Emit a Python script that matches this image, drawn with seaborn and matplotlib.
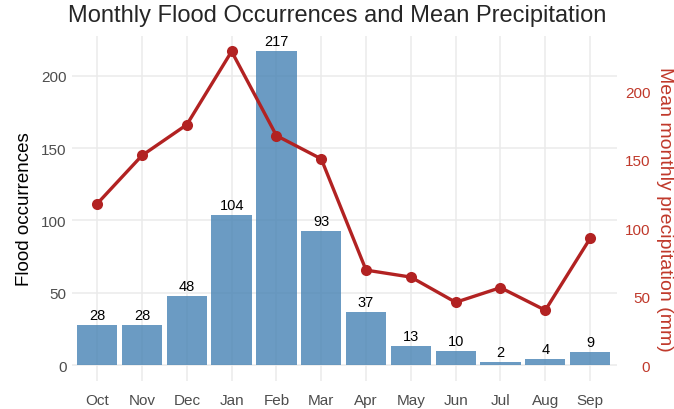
import numpy as np
import pandas as pd
import matplotlib
matplotlib.use("Agg")
import matplotlib.pyplot as plt
import seaborn as sns

months = ["Oct", "Nov", "Dec", "Jan", "Feb", "Mar", "Apr", "May", "Jun", "Jul", "Aug", "Sep"]
floods = [28, 28, 48, 104, 217, 93, 37, 13, 10, 2, 4, 9]
precip = [117.8, 153, 175.5, 229, 167.5, 150.5, 69.3, 64.2, 45.8, 56.5, 40, 92.4]
left_ticks = [0, 50, 100, 150, 200]
right_ticks = [0, 50, 100, 150, 200]

sns.set_theme(style="whitegrid")
plt.rcParams["font.family"] = ["Liberation Sans", "DejaVu Sans"]

bar_color = "#4682B4"
line_color = "#B22222"
grid_color = "#ebebeb"

df = pd.DataFrame({"month": months, "floods": floods, "precip": precip})
df["pos"] = np.arange(len(months))

fig = plt.figure(figsize=(6.74, 4.10), dpi=100)
ax = fig.add_axes([0.107, 0.069, 0.9154 - 0.107, 0.9105 - 0.069])

sns.barplot(data=df, x="month", y="floods", color=bar_color, alpha=0.8,
            width=0.9, saturation=1, ax=ax, linewidth=0)

lo, hi = -10.85, 227.85
ax.set_ylim(lo, hi)
ax.set_xlim(-0.56, 11.6)
ax.set_yticks(left_ticks)

for i, v in enumerate(floods):
    ax.text(i, v + 2.0, str(v), ha="center", va="bottom", fontsize=10.5, color="black")

scale = max(floods) / max(precip)
ax2 = ax.twinx()
sns.lineplot(data=df, x="pos", y="precip", color=line_color, linewidth=2.4,
             marker="o", markersize=8, markeredgewidth=0, ax=ax2)
ax2.set_ylim(lo / scale, hi / scale)
ax2.set_yticks(right_ticks)
ax2.grid(False)

for a in (ax, ax2):
    for s in a.spines.values():
        s.set_visible(False)

ax.grid(True, color=grid_color, linewidth=1.1)
ax.set_axisbelow(True)
ax.tick_params(axis="both", length=0, labelsize=11, labelcolor="#4d4d4d")
ax.tick_params(axis="y", pad=4)
ax.tick_params(axis="x", pad=9)
ax.set_xlabel("")
ax.set_ylabel("Flood occurrences", fontsize=13.5, color="black", labelpad=6)

ax2.tick_params(axis="y", length=0, labelsize=11, labelcolor="#C0392B", pad=24)
for lab in ax2.get_yticklabels():
    lab.set_horizontalalignment("right")
ax2.set_ylabel("Mean monthly precipitation (mm)", fontsize=14, color="#C0392B",
               rotation=270, labelpad=16)

fig.suptitle("Monthly Flood Occurrences and Mean Precipitation", fontsize=17,
             x=0.5, y=0.988, va="top")

fig.savefig("out.png", dpi=100)
